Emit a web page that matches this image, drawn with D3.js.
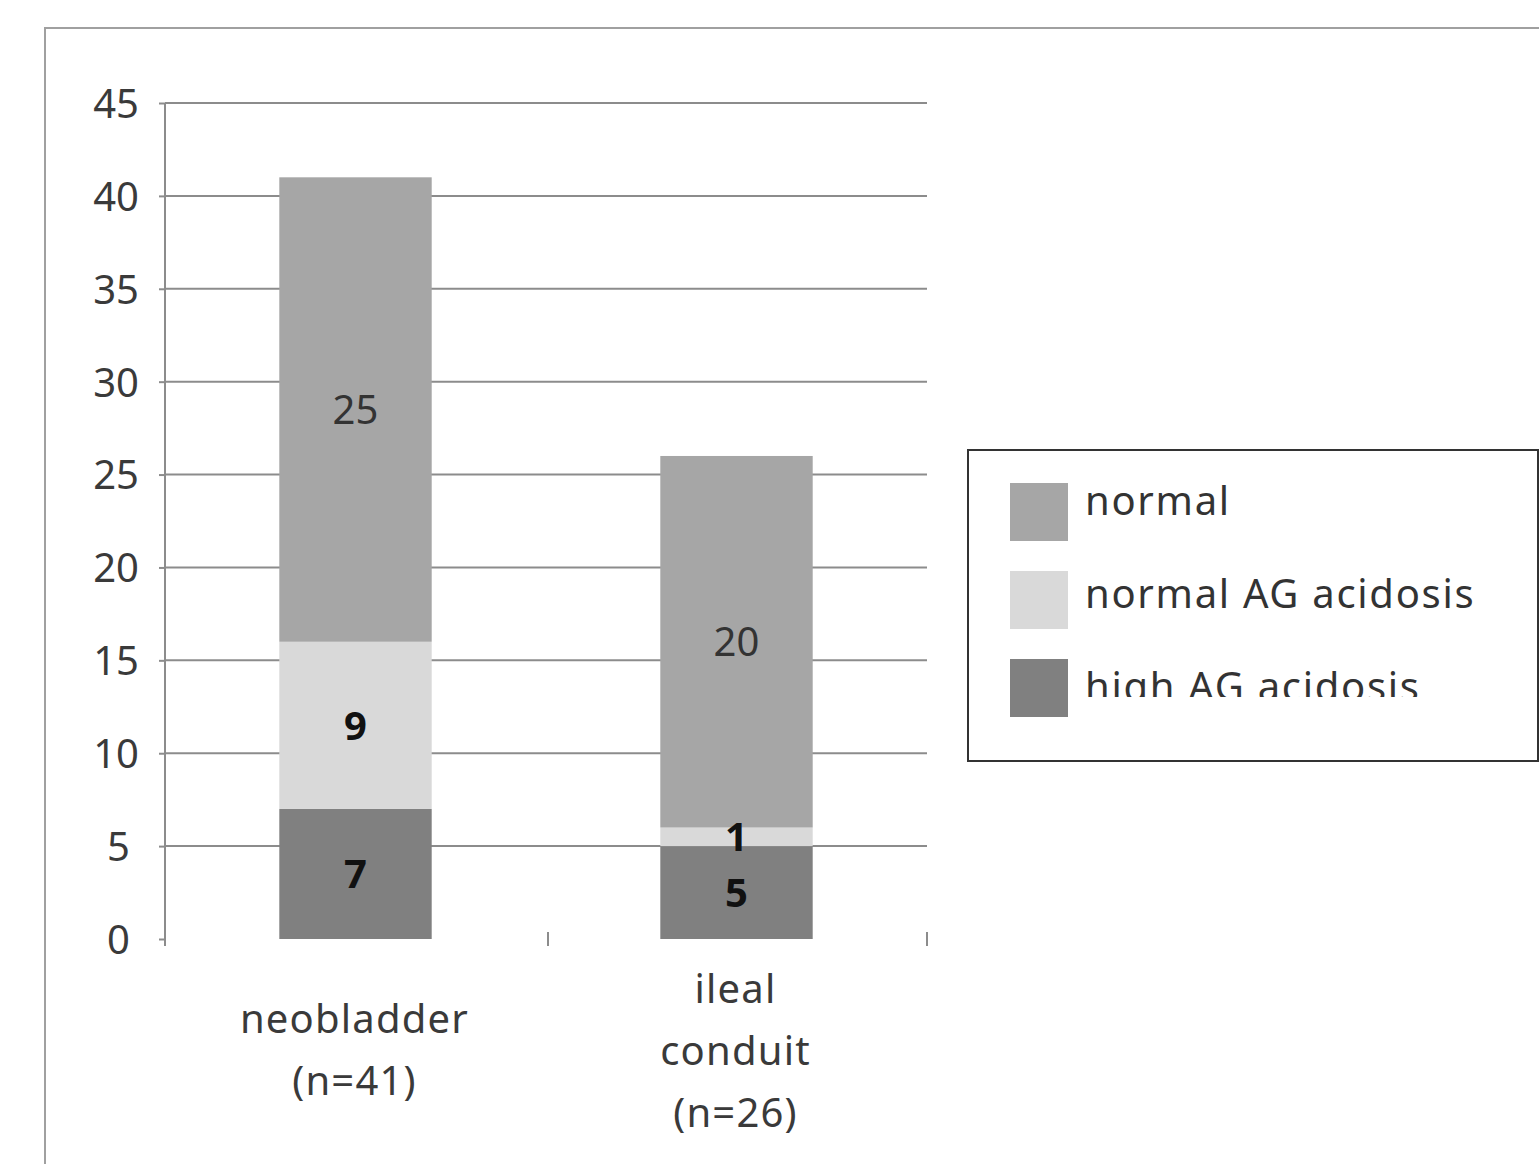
<!DOCTYPE html>
<html>
<head>
<meta charset="utf-8">
<script src="https://cdn.jsdelivr.net/npm/d3@7"></script>
<style>
  html, body { margin: 0; padding: 0; background: #fff; }
  svg { display: block; }
  text { font-family: "Noto Sans", "Open Sans", sans-serif; }
</style>
</head>
<body>
<svg id="chart" width="1539" height="1164"></svg>
<script>
// ---- data ----
const categories = ["neobladder", "ileal conduit"];
const categoryLines = [["neobladder", "(n=41)"], ["ileal", "conduit", "(n=26)"]];
const seriesNames = ["high AG acidosis", "normal AG acidosis", "normal"];
const highAG = [7, 5];
const normalAG = [9, 1];
const normal = [25, 20];
const yTicks = [0, 5, 10, 15, 20, 25, 30, 35, 40, 45];
const legendOrder = ["normal", "normal AG acidosis", "high AG acidosis"];

// ---- styles ----
const colors = { "normal": "#a6a6a6", "normal AG acidosis": "#d9d9d9", "high AG acidosis": "#808080" };
const valueStyle = { "normal": { weight: 400, fill: "#333" },
                     "normal AG acidosis": { weight: 700, fill: "#111" },
                     "high AG acidosis": { weight: 700, fill: "#111" } };

const svg = d3.select("#chart");

// outer chart border (extends past the picture)
svg.append("rect").attr("x", 45).attr("y", 28).attr("width", 1600).attr("height", 1300)
  .attr("fill", "none").attr("stroke", "#a0a0a0").attr("stroke-width", 2);

const plot = { left: 165, right: 927, top: 103, bottom: 939 };
const y = d3.scaleLinear().domain([0, 45]).range([plot.bottom, plot.top]);
const x = d3.scaleBand().domain(categories).range([plot.left, plot.right])
  .paddingInner(0.6).paddingOuter(0.3);
const xCat = d3.scaleBand().domain(categories).range([plot.left, plot.right]);

// gridlines
svg.append("g").selectAll("line").data(yTicks.filter(d => d > 0)).join("line")
  .attr("x1", plot.left).attr("x2", plot.right)
  .attr("y1", d => y(d)).attr("y2", d => y(d))
  .attr("stroke", "#8c8c8c").attr("stroke-width", 2);

// y axis
const yAxis = d3.axisLeft(y).tickValues(yTicks).tickSize(6).tickPadding(20);
const gy = svg.append("g").attr("transform", `translate(${plot.left},0)`).call(yAxis);
gy.select(".domain").attr("stroke", "#8c8c8c").attr("stroke-width", 2)
  .attr("d", `M0,${plot.top}V${plot.bottom + 7}`);
gy.selectAll(".tick line").attr("stroke", "#8c8c8c").attr("stroke-width", 2);
gy.selectAll(".tick text").attr("font-size", 40).attr("fill", "#3a3a3a")
  .attr("font-family", "Noto Sans, sans-serif").attr("dy", "0.36em")
  .attr("dx", d => (d < 10 ? -9 : 0));

// x category tick marks (no baseline)
const xTickPos = [xCat.step() * 1 + plot.left + 2, plot.right];
svg.append("g").selectAll("line").data(xTickPos).join("line")
  .attr("x1", d => d).attr("x2", d => d)
  .attr("y1", plot.bottom - 7).attr("y2", plot.bottom + 7)
  .attr("stroke", "#8c8c8c").attr("stroke-width", 2);

// stacked data
const rows = categories.map((c, i) => ({ cat: c, "high AG acidosis": highAG[i], "normal AG acidosis": normalAG[i], "normal": normal[i] }));
const stack = d3.stack().keys(seriesNames)(rows);

const layers = svg.append("g").selectAll("g").data(stack).join("g")
  .attr("fill", d => colors[d.key]);
layers.selectAll("rect").data(d => d).join("rect")
  .attr("x", d => x(d.data.cat)).attr("width", x.bandwidth())
  .attr("y", d => y(d[1])).attr("height", d => y(d[0]) - y(d[1]));

// value labels
stack.forEach(layer => {
  svg.append("g").selectAll("text").data(layer).join("text")
    .attr("x", d => x(d.data.cat) + x.bandwidth() / 2)
    .attr("y", d => y((d[0] + d[1]) / 2))
    .attr("dy", "0.36em")
    .attr("text-anchor", "middle")
    .attr("font-size", 40)
    .attr("font-weight", valueStyle[layer.key].weight)
    .attr("fill", valueStyle[layer.key].fill)
    .text(d => d[1] - d[0]);
});

// category labels
const lineH = 62;
categories.forEach((c, i) => {
  const lines = categoryLines[i];
  const cx = xCat(c) + xCat.bandwidth() / 2 - 1;
  const firstBaseline = lines.length === 2 ? 1033 : 1003;
  svg.append("g").selectAll("text").data(lines).join("text")
    .attr("x", cx).attr("y", (d, j) => firstBaseline + j * lineH)
    .attr("text-anchor", "middle").attr("font-size", 40).attr("fill", "#3a3a3a")
    .attr("letter-spacing", "1.2px")
    .text(d => d);
});

// legend
const legend = svg.append("g");
legend.append("rect").attr("x", 968).attr("y", 450).attr("width", 570).attr("height", 311)
  .attr("fill", "#fff").attr("stroke", "#333").attr("stroke-width", 2);
svg.append("clipPath").attr("id", "legclip").append("rect")
  .attr("x", 960).attr("y", 440).attr("width", 600).attr("height", 257);
const items = legend.selectAll("g.item").data(legendOrder).join("g").attr("class", "item")
  .attr("transform", (d, i) => `translate(1010,${483 + i * 88})`);
items.append("rect").attr("width", 58).attr("height", 58).attr("fill", d => colors[d]);
legend.selectAll("text.leg").data(legendOrder).join("text").attr("class", "leg")
  .attr("x", 1085).attr("y", (d, i) => 515 + i * 93)
  .attr("font-size", 40).attr("fill", "#333")
  .attr("letter-spacing", "1.7px")
  .attr("clip-path", "url(#legclip)")
  .text(d => d);
</script>
</body>
</html>
